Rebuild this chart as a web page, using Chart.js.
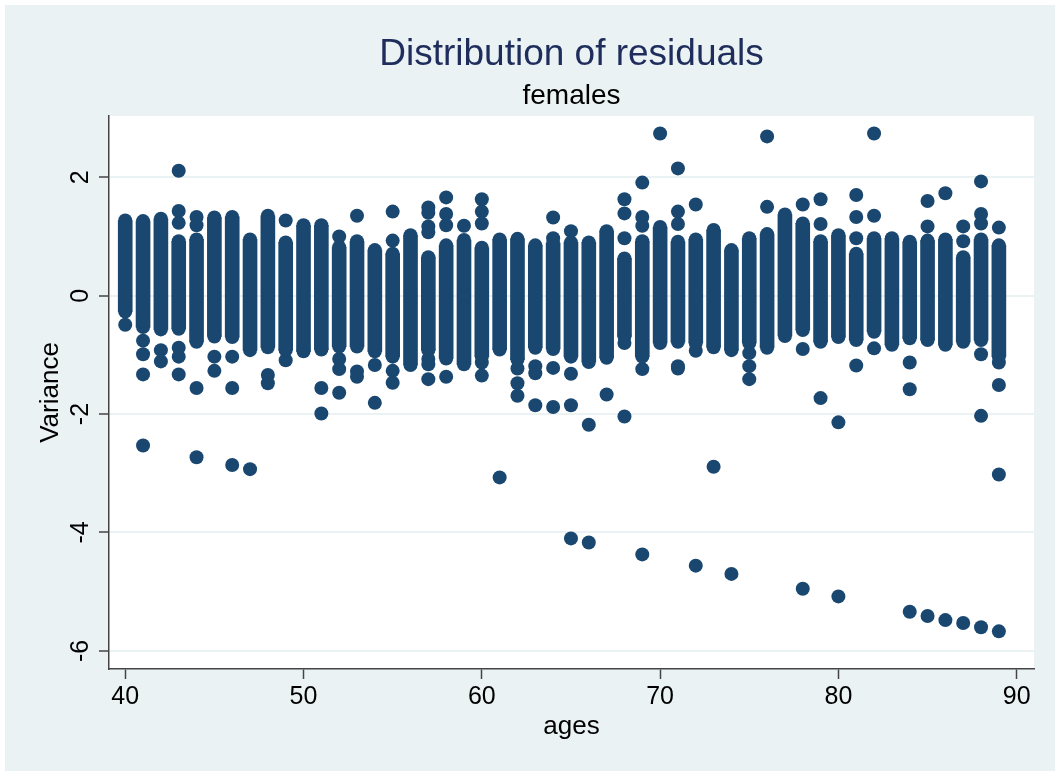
<!DOCTYPE html>
<html>
<head>
<meta charset="utf-8">
<script src="https://cdn.jsdelivr.net/npm/chart.js@4/dist/chart.umd.min.js"></script>
<style>
	html, body { margin: 0; padding: 0; background: #fff; }
	#wrap { width: 1055px; height: 771px; }
</style>
</head>
<body>
<div id="wrap"><canvas id="mycanvas" width="1055" height="771"></canvas></div>
<script>
// ages on the x axis
var ages = [40,41,42,43,44,45,46,47,48,49,
	50,51,52,53,54,55,56,57,58,59,
	60,61,62,63,64,65,66,67,68,69,
	70,71,72,73,74,75,76,77,78,79,
	80,81,82,83,84,85,86,87,88,89];

// top and bottom of the dense block of residuals for each age
var colHigh = [1.27,1.26,1.30,0.92,0.95,1.32,1.33,0.95,1.35,0.90,
	1.19,1.19,0.82,0.92,0.77,0.71,1.02,0.65,0.85,0.94,
	0.81,0.95,0.96,0.85,0.89,0.90,0.90,1.09,0.63,0.92,
	1.16,0.91,0.95,1.11,0.77,0.97,1.04,1.37,1.22,0.92,
	1.02,0.71,0.97,0.97,0.91,0.93,0.95,0.65,0.95,0.85];
var colLow = [-0.27,-0.53,-0.57,-0.56,-0.78,-0.69,-0.70,-0.92,-0.87,-0.92,
	-0.94,-0.91,-0.86,-0.86,-0.94,-1.03,-1.17,-0.92,-1.06,-1.16,
	-1.03,-0.91,-1.08,-0.88,-0.90,-1.03,-1.12,-1.05,-0.69,-1.03,
	-0.80,-0.78,-0.80,-0.87,-0.92,-0.80,-0.88,-0.68,-0.58,-0.78,
	-0.70,-0.75,-0.61,-0.83,-0.72,-0.75,-0.83,-0.78,-0.75,-1.03];

// single residuals outside the dense block
var outlierAge = [40,
	41,41,41,41, 42,42, 43,43,43,43,43,43, 44,44,44,44, 45,45, 46,46,46, 47, 48,48, 49,49,
	51,51, 52,52,52,52, 53,53,53, 54,54, 55,55,55,55, 57,57,57,57,57,57,57, 58,58,58,58, 59,
	60,60,60,60,60, 61, 62,62,62, 63,63,63, 64,64,64,64, 65,65,65,65, 66,66, 67, 68,68,68,68,68,
	69,69,69,69,69, 70, 71,71,71,71,71, 72,72,72, 73, 74, 75,75,75, 76,76, 78,78,78, 79,79,79,
	80,80, 81,81,81,81, 82,82,82, 84,84,84, 85,85,85, 86,86, 87,87,87, 88,88,88,88,88,88,
	89,89,89,89,89];
var outlierValue = [-0.49,
	-0.76,-0.99,-1.33,-2.53, -0.92,-1.11, 2.11,1.43,1.23,-0.88,-1.03,-1.33, 1.33,1.19,-1.56,-2.73, -1.03,-1.27, -1.03,-1.56,-2.86, -2.93, -1.34,-1.48, 1.27,-1.09,
	-1.56,-1.99, 1.00,-1.07,-1.24,-1.64, 1.35,-1.28,-1.37, -1.17,-1.81, 1.42,0.93,-1.27,-1.47, 1.49,1.40,1.17,1.07,-1.07,-1.16,-1.41, 1.66,1.38,1.19,-1.37, 1.18,
	1.63,1.42,1.22,-1.13,-1.35, -3.07, -1.23,-1.48,-1.69, -1.19,-1.31,-1.85, 1.32,0.97,-1.22,-1.88, 1.09,-1.32,-1.85,-4.10, -2.18,-4.17, -1.67, 1.63,1.39,0.97,-0.80,-2.04,
	1.91,1.33,1.18,-1.24,-4.37, 2.74, 2.15,1.42,1.21,-1.19,-1.23, 1.54,-0.93,-4.56, -2.89, -4.70, -0.97,-1.19,-1.41, 2.69,1.50, 1.54,-0.90,-4.95, 1.63,1.21,-1.73,
	-2.14,-5.08, 1.70,1.33,0.97,-1.18, 2.74,1.35,-0.89, -1.13,-1.58,-5.34, 1.60,1.17,-5.41, 1.73,-5.48, 1.17,0.92,-5.53, 1.93,1.38,1.22,-0.99,-2.03,-5.60,
	1.15,-1.13,-1.51,-3.02,-5.67];

var xTicks = [40, 50, 60, 70, 80, 90];
var yTicks = [-6, -4, -2, 0, 2];

var navy = '#1a476f';
var bgColor = '#eaf2f3';
var fontFamily = '"Liberation Sans", Arial, Helvetica, sans-serif';

var columnData = [];
var endData = [];
for (var i in ages) {
	columnData.push({x: ages[i], y: [colLow[i], colHigh[i]]});
	endData.push({x: ages[i], y: colLow[i]});
	endData.push({x: ages[i], y: colHigh[i]});
}
var outlierData = [];
for (var j in outlierAge) {
	outlierData.push({x: outlierAge[j], y: outlierValue[j]});
}

// stata-like background: light frame, white plot region
var backgroundPlugin = {
	id: 'stataBackground',
	beforeDraw: function(chart) {
		var c = chart.ctx;
		var a = chart.chartArea;
		c.save();
		c.fillStyle = '#fff';
		c.fillRect(0, 0, chart.width, chart.height);
		c.fillStyle = bgColor;
		c.fillRect(5, 5, chart.width - 5, chart.height - 5);
		c.fillStyle = '#fff';
		c.fillRect(a.left, a.top, a.right - a.left, a.bottom - a.top);
		c.restore();
	}
};

// titles, axis titles and the vertical y tick labels
var textPlugin = {
	id: 'stataText',
	afterDraw: function(chart) {
		var c = chart.ctx;
		var a = chart.chartArea;
		var mid = (a.left + a.right) / 2;
		var yScale = chart.scales.y;
		c.save();
		c.textAlign = 'center';
		c.textBaseline = 'alphabetic';

		c.fillStyle = '#1e2d5c';
		c.font = '37px ' + fontFamily;
		c.fillText('Distribution of residuals', mid, 65);

		c.fillStyle = '#000';
		c.font = '28px ' + fontFamily;
		c.fillText('females', mid, 104);

		c.font = '26px ' + fontFamily;
		c.fillText('ages', mid, 734);

		c.save();
		c.translate(58, (a.top + a.bottom) / 2);
		c.rotate(-Math.PI / 2);
		c.fillText('Variance', 0, 0);
		c.restore();

		c.font = '25px ' + fontFamily;
		for (var k in yTicks) {
			var py = yScale.getPixelForValue(yTicks[k]);
			c.save();
			c.translate(88, py);
			c.rotate(-Math.PI / 2);
			c.fillText(String(yTicks[k]), 0, 0);
			c.restore();
		}
		c.restore();
	}
};

var ctx = document.getElementById('mycanvas');
var residChart = new Chart(ctx, {
	type: 'bar',
	data: {
		datasets: [
			{
				type: 'bar',
				label: 'block',
				data: columnData,
				backgroundColor: navy,
				borderWidth: 0,
				barThickness: 14,
				grouped: false
			},
			{
				type: 'scatter',
				label: 'block ends',
				data: endData,
				backgroundColor: navy,
				borderColor: navy,
				borderWidth: 0,
				pointRadius: 7
			},
			{
				type: 'scatter',
				label: 'residuals',
				data: outlierData,
				backgroundColor: navy,
				borderColor: navy,
				borderWidth: 0,
				pointRadius: 7
			}
		]
	},
	options: {
		responsive: false,
		animation: false,
		devicePixelRatio: 1,
		layout: { padding: { left: 0, right: 21, top: 116, bottom: 0 } },
		plugins: {
			legend: { display: false },
			tooltip: { enabled: false },
			title: { display: false }
		},
		scales: {
			x: {
				type: 'linear',
				offset: false,
				min: 39.09,
				max: 90.97,
				afterBuildTicks: function(s) {
					s.ticks = xTicks.map(function(v) { return {value: v}; });
				},
				afterFit: function(s) { s.height = 102; },
				grid: {
					offset: false,
					drawOnChartArea: false,
					drawTicks: true,
					tickLength: 10,
					tickColor: '#444',
					tickWidth: 1.5
				},
				border: { display: true, color: '#444', width: 1.5 },
				ticks: {
					autoSkip: false,
					maxRotation: 0,
					padding: 3,
					color: '#000',
					font: { family: fontFamily, size: 25 }
				}
			},
			y: {
				type: 'linear',
				min: -6.306,
				max: 3.035,
				afterBuildTicks: function(s) {
					s.ticks = yTicks.map(function(v) { return {value: v}; });
				},
				afterFit: function(s) { s.width = 109; },
				grid: {
					color: bgColor,
					lineWidth: 2,
					drawTicks: true,
					tickLength: 10,
					tickColor: '#444',
					tickWidth: 1.5
				},
				border: { display: true, color: '#444', width: 1.5 },
				ticks: { display: false }
			}
		}
	},
	plugins: [backgroundPlugin, textPlugin]
});
</script>
</body>
</html>
